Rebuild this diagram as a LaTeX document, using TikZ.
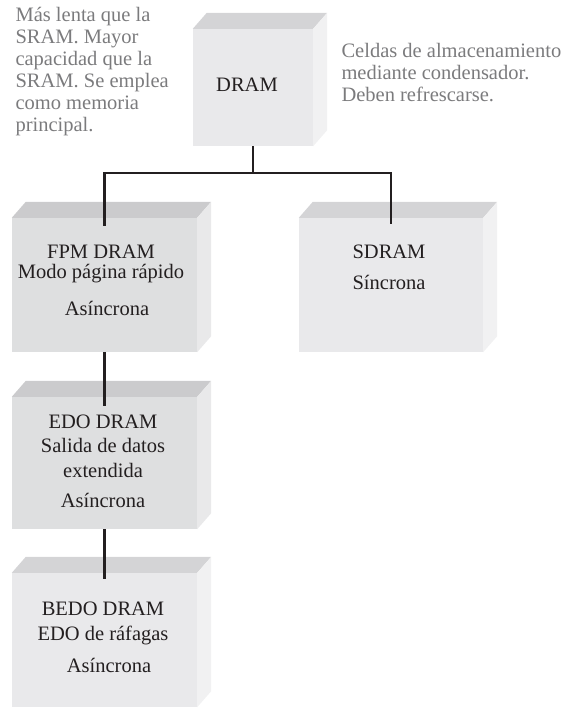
\documentclass[tikz,border=0pt]{standalone}
\usepackage{fontspec}
\setmainfont{Liberation Serif}
\usepackage{tikz}
\usetikzlibrary{positioning, calc}
\definecolor{tinta}{HTML}{231F20}
\definecolor{notagris}{HTML}{7B7B7D}
\definecolor{frenteclaro}{HTML}{E9E9EB}
\definecolor{techoclaro}{HTML}{D4D4D6}
\definecolor{ladoclaro}{HTML}{F1F1F2}
\definecolor{frenteoscuro}{HTML}{DEDFE0}
\definecolor{techooscuro}{HTML}{CBCBCD}
\definecolor{ladooscuro}{HTML}{E9E9EA}

% caja en relieve: cara frontal (nodo) + techo + lateral
\newcommand{\relieve}[3]{%
    \fill[#2] (#1.north west) -- ++(14,-16) -- ($(#1.north east)+(14,-16)$) -- (#1.north east) -- cycle;
    \fill[#3] (#1.north east) -- ++(14,-16) -- ($(#1.south east)+(14,-16)$) -- (#1.south east) -- cycle;
}

\begin{document}
\begin{tikzpicture}[
    x=1pt, y=-1pt,
    caja/.style={inner sep=0pt, minimum height=134pt, minimum width=185pt},
    texto/.style={align=center, anchor=base, text=tinta, font=\fontsize{20.5}{22}\selectfont},
    nota/.style={align=left, anchor=base west, text=notagris, font=\fontsize{20.5}{22}\selectfont},
    linea/.style={draw=tinta, line width=2.2pt},
]
    \useasboundingbox (0,0) rectangle (565,708);

    % cajas
    \node[caja, fill=frenteclaro, minimum width=120pt, minimum height=117pt] (dram) at (253,87.5) {};
    \node[caja, fill=frenteoscuro] (fpm) at (104.5,285) {};
    \node[caja, fill=frenteclaro, minimum width=184pt] (sdram) at (391,285) {};
    \node[caja, fill=frenteoscuro, minimum height=132pt] (edo) at (104.5,463) {};
    \node[caja, fill=frenteclaro] (bedo) at (104.5,640) {};
    \relieve{dram}{techoclaro}{ladoclaro}
    \relieve{fpm}{techooscuro}{ladooscuro}
    \relieve{sdram}{techoclaro}{ladoclaro}
    \relieve{edo}{techooscuro}{ladooscuro}
    \relieve{bedo}{techoclaro}{ladoclaro}

    % textos (anclados en la linea base de la ultima linea)
    \node[texto] (tdram) at (247,92) {DRAM};
    \node[texto] (tfpm) at (101,315) {FPM DRAM\\[-2pt]Modo página rápido\\[15pt]\hspace*{12pt}Asíncrona};
    \node[texto] (tsdram) at (389,289) {SDRAM\\[9pt]Síncrona};
    \node[texto] (tedo) at (103,507) {EDO DRAM\\[2pt]Salida de datos\\[3pt]extendida\\[8pt]Asíncrona};
    \node[texto] (tbedo) at (103,672) {BEDO DRAM\\[3pt]EDO de ráfagas\\[10pt]\hspace*{12pt}Asíncrona};

    \node[nota] (nlenta) at (12,132) {Más lenta que la\\SRAM. Mayor\\capacidad que la\\SRAM. Se emplea\\como memoria\\principal.};
    \node[nota] (nceldas) at (338,102) {Celdas de almacenamiento\\mediante condensador.\\Deben refrescarse.};

    % conexiones
    \draw[linea] (dram.south) -- ++(0,27) coordinate (bus);
    \draw[linea, shorten >=-8pt] (bus) -| (fpm.north);
    \draw[linea, shorten >=-6pt] (bus) -| (sdram.north);
    \draw[linea, shorten >=-9pt] (fpm.south) -- (edo.north);
    \draw[linea, shorten >=-6pt] (edo.south) -- (bedo.north);
\end{tikzpicture}
\end{document}
